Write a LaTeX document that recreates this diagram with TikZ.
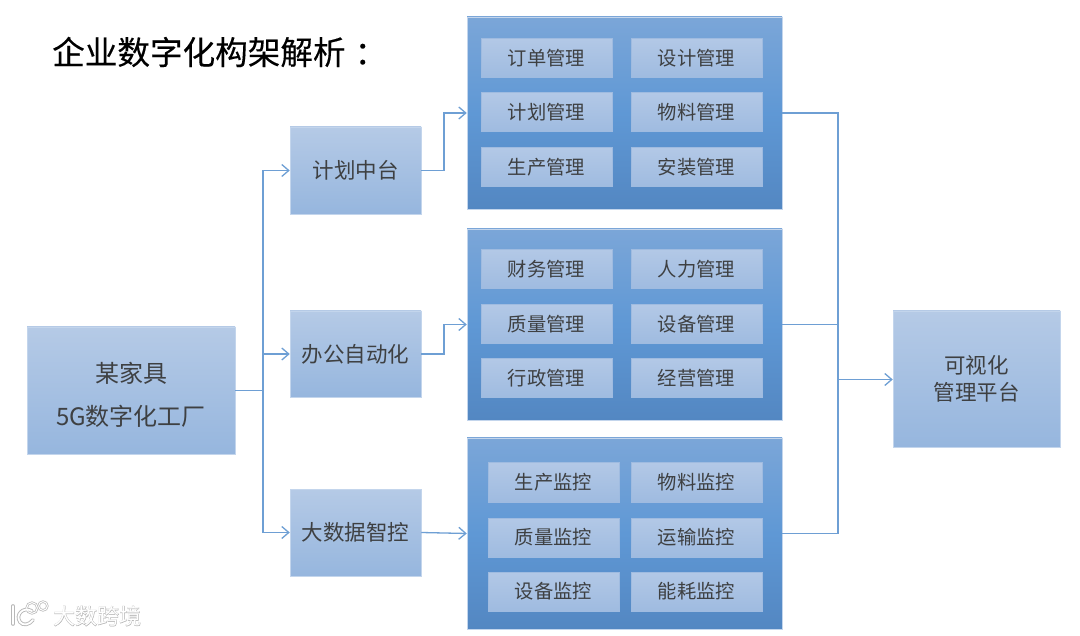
\documentclass[tikz,border=0pt]{standalone}
\usepackage{fontspec}
\setmainfont{Noto Sans CJK SC}
\usetikzlibrary{arrows.meta}
\definecolor{linec}{HTML}{6E9FD4}
\definecolor{txt}{HTML}{3E4042}
\tikzset{
  base/.style={rectangle,inner sep=0pt,align=center,text=txt,draw=#1,line width=0.5pt},
  lightbox/.style={base=bordc,top color=boxT,bottom color=boxB,font=\fontsize{21.5}{27}\selectfont},
  itembox/.style={base=itemB,top color=itemT,bottom color=itemB,line width=0pt,font=\fontsize{19.3}{24}\selectfont},
  panelbox/.style={base=bordc,top color=panT,bottom color=panB,middle color=panM},
  conn/.style={draw=linec,line width=1.3pt},
  arr/.style={conn,-{Straight Barb[length=7pt,width=12pt,line width=1.3pt]}},
}
\definecolor{bordc}{HTML}{C3D5EC}
\definecolor{boxT}{HTML}{B5CAE6}
\definecolor{boxB}{HTML}{96B6DE}
\definecolor{itemT}{HTML}{B2C8E6}
\definecolor{itemB}{HTML}{9FBBE0}
\definecolor{panT}{HTML}{7BA6D8}
\definecolor{panM}{HTML}{5F98D5}
\definecolor{panB}{HTML}{5387C2}
\newcommand{\bx}[7]{%
  \pgfmathsetmacro\cxx{(#3+#5)/2}\pgfmathsetmacro\cyy{(#4+#6)/2}%
  \pgfmathsetmacro\wxx{#5-#3}\pgfmathsetmacro\hxx{#6-#4}%
  \node[#2,minimum width=\wxx pt,minimum height=\hxx pt] (#1) at (\cxx,\cyy) {#7};}
\newfontfamily\titlefont[FakeBold=0.25]{Noto Sans CJK SC}
\newfontfamily\haloFont[FakeBold=2.2]{Noto Sans CJK SC}
\begin{document}
\begin{tikzpicture}[x=1pt,y=-1pt]
\useasboundingbox (0,0) rectangle (1080,636);
\fill[white] (0,0) rectangle (1080,636);
% title
\node[anchor=west,inner sep=0pt,text=black,font=\titlefont\fontsize{32.6}{38}\selectfont] (title) at (52,52) {企业数字化构架解析\hspace{9pt}：};
% panels
\bx{p1}{panelbox}{467}{17}{782}{209}{}
\bx{p2}{panelbox}{467}{229}{782}{420}{}
\bx{p3}{panelbox}{467}{438}{782}{629}{}
% items panel 1
\bx{a1}{itembox}{481}{39}{612}{78}{订单管理}
\bx{a2}{itembox}{631}{39}{762}{78}{设计管理}
\bx{a3}{itembox}{481}{93}{612}{132}{计划管理}
\bx{a4}{itembox}{631}{93}{762}{132}{物料管理}
\bx{a5}{itembox}{481}{148}{612}{187}{生产管理}
\bx{a6}{itembox}{631}{148}{762}{187}{安装管理}
% items panel 2
\bx{b1}{itembox}{481}{250}{612}{289}{财务管理}
\bx{b2}{itembox}{631}{250}{762}{289}{人力管理}
\bx{b3}{itembox}{481}{305}{612}{344}{质量管理}
\bx{b4}{itembox}{631}{305}{762}{344}{设备管理}
\bx{b5}{itembox}{481}{359}{612}{398}{行政管理}
\bx{b6}{itembox}{631}{359}{762}{398}{经营管理}
% items panel 3
\bx{c1}{itembox}{488}{463}{619}{502}{生产监控}
\bx{c2}{itembox}{631}{463}{762}{502}{物料监控}
\bx{c3}{itembox}{488}{518}{619}{557}{质量监控}
\bx{c4}{itembox}{631}{518}{762}{557}{运输监控}
\bx{c5}{itembox}{488}{572}{619}{611}{设备监控}
\bx{c6}{itembox}{631}{572}{762}{611}{能耗监控}
% main boxes
\bx{root}{lightbox,font=\fontsize{24}{27}\selectfont}{27}{327}{235}{454}{\rule{0pt}{29pt}某家具\\[16pt]5G数字化工厂}
\bx{m1}{lightbox}{290}{127}{421}{214}{计划中台}
\bx{m2}{lightbox}{290}{311}{421}{397}{办公自动化}
\bx{m3}{lightbox}{290}{489}{421}{576}{大数据智控}
\bx{viz}{lightbox}{893}{311}{1060}{447}{可视化\\管理平台}
% junction coordinates
\coordinate (jl) at (263,390.5);
\coordinate (jr) at (838,379.5);
% left connectors
\draw[conn] (root.east |- jl) -- (jl);
\draw[arr] (jl) |- (m1.west);
\draw[arr] (jl) |- (m2.west);
\draw[arr] (jl) |- (m3.west);
% middle connectors
\draw[arr] (m1.east) -- (444,170.5) |- (p1.west);
\draw[arr] (m2.east) -- (444,354) |- (p2.west);
\draw[arr] (m3.east) -- (p3.west);
% right connectors
\draw[conn] (p1.east) -| (jr);
\draw[conn] (p2.east) -| (jr);
\draw[conn] (p3.east) -| (jr);
\draw[arr] (jr) -- (viz.west |- jr);
% watermark
\begin{scope}[draw=black!28,line width=3.6pt,line cap=round]
  \draw (13,606) -- (13,624);
  \draw (32,611) .. controls (23,606) and (15,615) .. (20,622) .. controls (23,626) and (29,625) .. (33,620);
  \draw[line width=2.4pt] (32,608) circle (5.4);
  \draw[line width=2.4pt] (43,606) circle (4.4);
\end{scope}
\begin{scope}[draw=white,line width=1.8pt,line cap=round]
  \draw (13,606) -- (13,624);
  \draw (32,611) .. controls (23,606) and (15,615) .. (20,622) .. controls (23,626) and (29,625) .. (33,620);
  \draw[line width=1pt] (32,608) circle (5.4);
  \draw[line width=1pt] (43,606) circle (4.4);
\end{scope}
\node[anchor=west,inner sep=0pt,text=black!30,font=\haloFont\fontsize{22}{24}\selectfont] (wm0) at (53,616) {大数跨境};
\node[anchor=west,inner sep=0pt,text=white,font=\fontsize{22}{24}\selectfont] (wm) at (53,616) {大数跨境};
\end{tikzpicture}
\end{document}
